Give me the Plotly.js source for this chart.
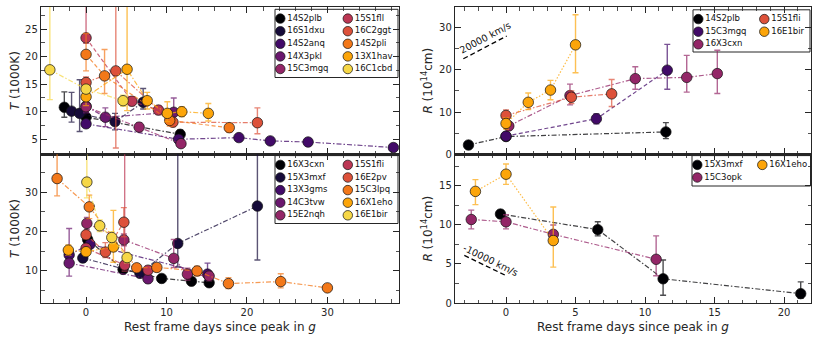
<!DOCTYPE html>
<html><head><meta charset="utf-8">
<script src="https://cdn.plot.ly/plotly-3.0.1.min.js"></script>
<style>html,body{margin:0;padding:0;background:#fff}</style>
</head><body>
<div id="chart" style="width:822px;height:343px"></div>
<script>
// ================= DATA =================
// Top-left: temperature (1000 K) vs rest-frame days
const tlNames = ['14S2plb','16S1dxu','14S2anq','14X3pkl','15C3mgq','15S1fll','16C2ggt','14S2pli','13X1hav','16C1cbd'];
const tlDays = [
  [-2.7, 0, 11.7],
  [-1.8, -0.8, 3.6, 7.1],
  [0, 11.5, 19.0, 22.9, 27.6, 38.2],
  [0, 2.4, 10.9],
  [0, 6.6, 11.8],
  [0, 5.7, 9.0],
  [0, 3.7, 10.8, 21.3],
  [0, 2.3, 10.4, 17.8],
  [0, 5.1, 7.6, 10.1, 11.9, 15.2],
  [-4.5, 0, 4.6]
];
const tlTemp = [
  [10.8, 9.0, 5.9],
  [10.1, 9.7, 8.2, 11.7],
  [7.8, 5.0, 5.3, 4.7, 4.5, 3.5],
  [11.0, 9.0, 9.9],
  [10.9, 7.2, 4.2],
  [23.4, 11.9, 10.3],
  [15.3, 17.4, 8.1, 8.0],
  [20.4, 16.5, 8.4, 7.1],
  [12.7, 17.7, 12.0, 9.7, 10.0, 9.7],
  [17.6, 14.1, 12.0]
];
const tlErrUp = [
  [2.8, 0.9, 0.8],
  [3.4, 6.1, 1.5, 2.5],
  [0.5, 0.5, 0.5, 0.5, 0.5, 0.5],
  [1.2, 1.7, 2.6],
  [0.8, 0.8, 0.6],
  [14, 0.8, 0.8],
  [1.0, 14, 0.8, 2.7],
  [3.8, 4.8, 1.0, 0.8],
  [1.6, 14, 1.5, 2.1, 0.9, 1.8],
  [14, 0.8, 1.0]
];
const tlErrDown = [
  [1.8, 0.9, 0.8],
  [2.0, 3.3, 1.5, 1.2],
  [0.5, 0.5, 0.5, 0.5, 0.5, 0.5],
  [1.2, 1.7, 1.4],
  [0.8, 0.8, 0.6],
  [1.0, 0.8, 0.8],
  [1.0, 14, 0.8, 2.0],
  [3.0, 3.2, 1.0, 0.8],
  [1.6, 7.5, 1.5, 1.5, 0.9, 1.4],
  [5.4, 0.8, 1.0]
];

// Bottom-left: temperature (1000 K) vs rest-frame days
const blNames = ['16X3cxn','15X3mxf','13X3gms','14C3tvw','15E2nqh','15S1fli','16E2pv','15C3lpq','16X1eho','16E1bir'];
const blDays = [
  [0.2, 4.6, 9.4, 13.1, 15.3],
  [-0.4, 6.7, 11.4, 21.3],
  [-2.1, 0.5, 15.1],
  [-2.1, 7.7],
  [0.1, 4.7, 10.9, 12.6, 15.3],
  [0, 4.8, 7.7],
  [0, 2.4, 4.7],
  [-3.6, 0.4, 6.3, 8.8, 13.8, 17.7, 24.2, 30.0],
  [-2.2, 0, 3.4],
  [0.1, 1.7, 3.2, 5.1]
];
const blTemp = [
  [18.0, 10.4, 8.1, 7.4, 7.0],
  [13.3, 9.4, 17.0, 26.5],
  [14.1, 16.8, 9.2],
  [12.0, 8.0],
  [22.1, 17.9, 13.2, 9.2, 8.7],
  [15.8, 11.5, 10.2],
  [19.2, 14.8, 22.4],
  [33.5, 26.3, 10.8, 10.9, 10.0, 6.8, 7.3, 5.7],
  [15.3, 14.9, 16.1],
  [32.6, 21.5, 18.5, 13.4]
];
const blErrUp = [
  [0.7, 0.6, 0.6, 0.6, 0.6],
  [1.0, 1.0, 25, 15],
  [1.5, 1.0, 2.8],
  [8.8, 1.0],
  [1.5, 1.5, 4.8, 1.5, 1.2],
  [1.0, 30, 1.0],
  [1.0, 2.4, 3.7],
  [7.0, 3.0, 0.8, 0.8, 1.2, 1.5, 2.0, 0.6],
  [1.3, 1.0, 9.3],
  [10, 1.5, 1.5, 1.3]
];
const blErrDown = [
  [0.7, 0.6, 0.6, 0.6, 0.6],
  [1.0, 1.0, 6.0, 13.7],
  [1.5, 1.0, 1.5],
  [3.3, 1.0],
  [1.5, 1.5, 2.3, 1.5, 1.2],
  [1.0, 1.5, 1.0],
  [1.0, 1.4, 3.7],
  [4.4, 3.0, 0.8, 0.8, 1.2, 1.3, 1.6, 0.6],
  [1.3, 1.0, 3.9],
  [4.0, 1.5, 1.5, 1.3]
];

// Top-right: radius (1e14 cm) vs rest-frame days
const trNames = ['14S2plb','15C3mgq','16X3cxn','15S1fli','16E1bir'];
const trDays = [
  [-2.7, 0, 11.5],
  [0, 6.5, 11.6],
  [0.2, 4.6, 9.3, 13.0, 15.2],
  [0, 4.7, 7.6],
  [0, 1.6, 3.2, 5.0]
];
const trRadius = [
  [2.2, 4.2, 5.3],
  [4.3, 8.4, 19.9],
  [6.7, 13.9, 17.9, 18.2, 19.1],
  [9.2, 13.5, 14.3],
  [7.3, 12.3, 15.2, 25.9]
];
const trErrUp = [
  [0.3, 0.3, 2.2],
  [0.4, 1.2, 6.1],
  [0.6, 2.7, 2.8, 5.2, 5.5],
  [1.3, 1.5, 3.4],
  [1.3, 2.2, 2.3, 7.1]
];
const trErrDown = [
  [0.3, 0.3, 1.6],
  [0.4, 1.2, 4.5],
  [0.6, 2.2, 2.5, 3.5, 4.7],
  [1.3, 1.5, 3.0],
  [1.3, 1.7, 2.3, 6.6]
];

// Bottom-right: radius (1e14 cm) vs rest-frame days
const brNames = ['15X3mxf','15C3opk','16X1eho'];
const brDays = [
  [-0.4, 6.6, 11.3, 21.2],
  [-2.5, 0, 3.4, 10.8],
  [-2.2, 0, 3.4]
];
const brRadius = [
  [11.4, 9.4, 3.1, 1.2],
  [10.7, 10.4, 8.8, 5.6],
  [14.3, 16.5, 8.0]
];
const brErrUp = [
  [0.5, 1.0, 2.4, 1.5],
  [1.2, 0.9, 1.2, 3.0],
  [1.5, 1.3, 4.3]
];
const brErrDown = [
  [0.5, 0.8, 2.1, 0.6],
  [1.2, 0.9, 1.2, 2.1],
  [1.7, 1.3, 3.4]
];

// reference expansion velocities (km/s)
const velTop = 20000;
const velBottom = -10000;

// ================= STYLE =================
const inferno10 = ['#000004','#160b39','#420a68','#6a176e','#932667','#bc3754','#dd513a','#f37819','#fca50a','#f6d746'];
const trColors = ['#000004','#420a68','#932667','#dd513a','#fca50a'];
const brColors = ['#000004','#932667','#fca50a'];
const DD = '5px,2px,1.5px,2px', DA = '4px,2.5px', DO = '1.5px,1.8px';
const tlDash = [DD, DD, DD, DD, DD, DA, DD, DA, DD, DD];
const blDash = [DD, DD, DD, DD, DD, DD, DA, DD, DD, DA];
const trDash = [DD, DA, DD, DD, DO];
const brDash = [DD, DD, DO];

const FONT = 'DejaVu Sans';
const INK = '#262626';
const W = 822, H = 343;
const fx = px => px / W;
const fy = px => 1 - px / H;

function rgba(hex, a) {
  const n = parseInt(hex.slice(1), 16);
  return `rgba(${(n >> 16) & 255},${(n >> 8) & 255},${n & 255},${a})`;
}

const traces = [];
function addPanel(names, xs, ys, up, dn, colors, dashes, xa, ya) {
  names.forEach((nm, i) => {
    traces.push({
      type: 'scatter', mode: 'lines+markers', name: nm,
      x: xs[i], y: ys[i], xaxis: xa, yaxis: ya, showlegend: false,
      line: {color: rgba(colors[i], 0.75), width: 1.2, dash: dashes[i]},
      marker: {size: 10.5, color: colors[i], line: {color: 'rgba(20,20,20,0.9)', width: 0.8}},
      error_y: {type: 'data', symmetric: false, array: up[i], arrayminus: dn[i],
                color: rgba(colors[i], 0.7), thickness: 1.4, width: 3}
    });
  });
}
addPanel(tlNames, tlDays, tlTemp, tlErrUp, tlErrDown, inferno10, tlDash, 'x', 'y');
addPanel(blNames, blDays, blTemp, blErrUp, blErrDown, inferno10, blDash, 'x2', 'y2');
addPanel(trNames, trDays, trRadius, trErrUp, trErrDown, trColors, trDash, 'x3', 'y3');
addPanel(brNames, brDays, brRadius, brErrUp, brErrDown, brColors, brDash, 'x4', 'y4');

// ---- hand-made two-column legends, each in its own little axes ----
const shapes = [];
const legendAxes = {};
function addLegend(k, names, colors, box, colGap) {
  const [x0, x1, y0, y1] = box;
  const nrows = Math.ceil(names.length / 2);
  const xs = names.map((_, i) => 5.3 + Math.floor(i / nrows) * colGap);
  const ys = names.map((_, i) => 9.3 + (i % nrows) * 12.6);
  legendAxes['xaxis' + k] = {domain: [fx(x0), fx(x1)], range: [0, x1 - x0], anchor: 'y' + k, visible: false, fixedrange: true};
  legendAxes['yaxis' + k] = {domain: [fy(y1), fy(y0)], range: [y1 - y0, 0], anchor: 'x' + k, visible: false, fixedrange: true};
  shapes.push({type: 'rect', xref: 'x' + k + ' domain', yref: 'y' + k + ' domain', x0: 0, x1: 1, y0: 0, y1: 1,
               line: {color: INK, width: 1}, fillcolor: 'rgba(255,255,255,0.9)', layer: 'below'});
  traces.push({
    type: 'scatter', mode: 'markers+text', x: xs, y: ys, text: names, xaxis: 'x' + k, yaxis: 'y' + k,
    showlegend: false, hoverinfo: 'skip', cliponaxis: false, textposition: 'middle right',
    textfont: {family: FONT, size: 8.5, color: '#111'},
    marker: {size: 9.5, color: colors, line: {color: 'rgba(20,20,20,0.9)', width: 0.8}}
  });
}
addLegend(5, tlNames, inferno10, [275, 398, 9.3, 77.5], 67.5);
addLegend(6, blNames, inferno10, [275, 398, 155.6, 223.5], 67.5);
addLegend(7, trNames, trColors, [693, 810, 9.8, 52], 66);
addLegend(8, brNames, brColors, [692, 810.5, 155.6, 186], 65);

// ---- reference velocity lines ----
const perDay = v => v * 1e5 * 86400 / 1e14; // km/s -> 1e14 cm per day
const topStart = [-3.07, 22.6], topEnd = 0.05;
const botStart = [-3.0, 6.1], botEnd = 0.05;
shapes.push({type: 'line', xref: 'x3', yref: 'y3', x0: topStart[0], y0: topStart[1], x1: topEnd,
             y1: topStart[1] + perDay(velTop) * (topEnd - topStart[0]), line: {color: '#000', width: 1.3, dash: '5px,3px'}});
shapes.push({type: 'line', xref: 'x4', yref: 'y4', x0: botStart[0], y0: botStart[1], x1: botEnd,
             y1: botStart[1] + perDay(velBottom) * (botEnd - botStart[0]), line: {color: '#000', width: 1.3, dash: '5px,3px'}});

const annotations = [
  {xref: 'x3', yref: 'y3', x: -1.5, y: 27.7, text: velTop + ' km/s', showarrow: false, textangle: -28,
   font: {family: FONT, size: 9.5, color: '#111'}},
  {xref: 'x4', yref: 'y4', x: -1.05, y: 5.5, text: velBottom + ' km/s', showarrow: false, textangle: 26,
   font: {family: FONT, size: 9.5, color: '#111'}}
];

// ---- axes ----
const common = {
  showline: true, linecolor: INK, linewidth: 1.2, mirror: 'allticks',
  ticks: 'inside', ticklen: 6, tickwidth: 1, tickcolor: INK,
  showgrid: false, zeroline: false, automargin: false, tickmode: 'linear', tick0: 0,
  tickfont: {family: FONT, size: 10, color: INK}
};
const minor = d => ({dtick: d, tick0: 0, ticks: 'inside', ticklen: 3.5, tickwidth: 0.8, tickcolor: INK, showgrid: false});
const ax = extra => Object.assign({}, common, extra);
const titleFont = {family: FONT, size: 12, color: INK};
const tTitle = {text: '<i>T</i> (1000K)', font: titleFont, standoff: 2};
const rTitle = {text: '<i>R</i> (10<sup>14</sup>cm)', font: titleFont, standoff: 3};
const xTitle = {text: 'Rest frame days since peak in <i>g</i>', font: titleFont, standoff: 5};

const layout = Object.assign({
  width: W, height: H, margin: {l: 0, r: 0, t: 0, b: 0},
  paper_bgcolor: '#fff', plot_bgcolor: 'rgba(0,0,0,0)', showlegend: false, hovermode: false,
  font: {family: FONT, color: INK},
  xaxis:  ax({domain: [fx(41), fx(399)], anchor: 'y', range: [-5.6, 38.9], dtick: 10, minor: minor(2), showticklabels: false}),
  yaxis:  ax({domain: [fy(154.3), fy(7)], anchor: 'x', range: [2.27, 29.0], dtick: 5, minor: minor(2.5), title: tTitle}),
  xaxis2: ax({domain: [fx(41), fx(399)], anchor: 'y2', range: [-5.6, 38.9], dtick: 10, minor: minor(2), title: xTitle}),
  yaxis2: ax({domain: [fy(302.7), fy(154.3)], anchor: 'x2', range: [1.93, 39.67], dtick: 10, minor: minor(5), title: tTitle}),
  xaxis3: ax({domain: [fx(455), fx(811)], anchor: 'y3', range: [-3.67, 21.94], dtick: 5, minor: minor(1), showticklabels: false}),
  yaxis3: ax({domain: [fy(154.3), fy(7)], anchor: 'x3', range: [0, 34.85], dtick: 10, minor: minor(5), title: rTitle}),
  xaxis4: ax({domain: [fx(455), fx(811)], anchor: 'y4', range: [-3.67, 21.94], dtick: 5, minor: minor(1), title: xTitle}),
  yaxis4: ax({domain: [fy(303), fy(154.3)], anchor: 'x4', range: [0, 19.05], dtick: 5, minor: minor(2.5), title: rTitle}),
  shapes: shapes, annotations: annotations
}, legendAxes);

Plotly.newPlot('chart', traces, layout, {staticPlot: true, displayModeBar: false});
</script>
</body></html>
